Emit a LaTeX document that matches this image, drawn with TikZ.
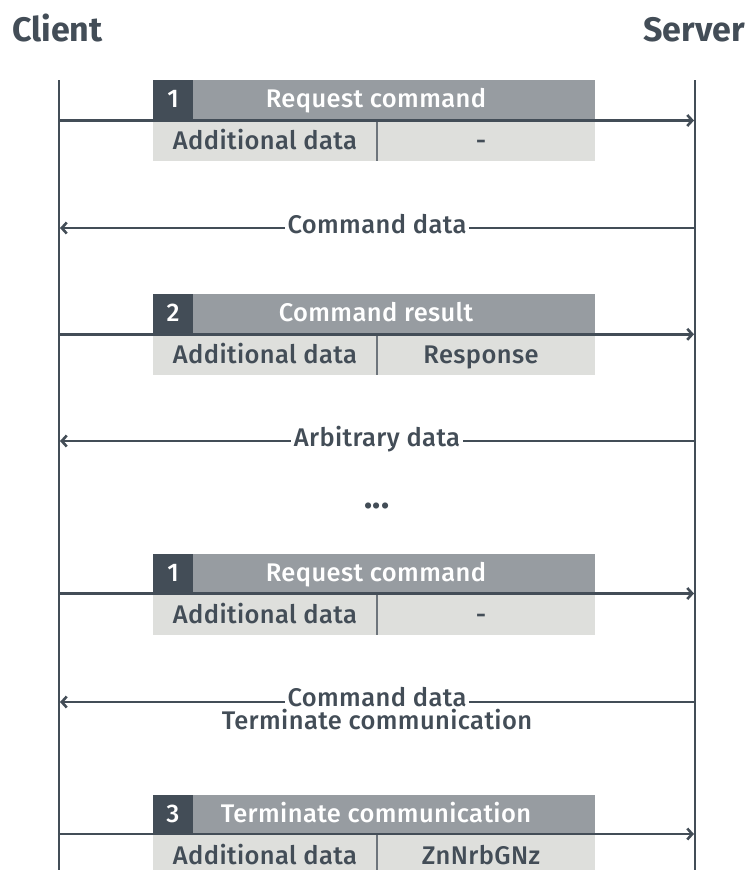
\documentclass[tikz,border=0pt]{standalone}
\usepackage{fontspec}
\IfFontExistsTF{Fira Sans Medium}{%
  \setmainfont{Fira Sans}[BoldFont={Fira Sans Bold}]%
  \newfontfamily\boxfont{Fira Sans Medium}[LetterSpace=1.5]%
}{%
  \IfFontExistsTF{FiraSans-Medium.otf}{%
    \setmainfont{FiraSans}[Extension=.otf,UprightFont=*-Regular,BoldFont=*-Bold]%
    \newfontfamily\boxfont{FiraSans}[Extension=.otf,UprightFont=*-Medium,LetterSpace=1.5]%
  }{%
    \setmainfont{Fira Sans}%
    \newfontfamily\boxfont{Fira Sans}[LetterSpace=2.2,FakeBold=1.3]%
  }%
}
\usetikzlibrary{arrows.meta}
\definecolor{ink}{HTML}{434D57}
\definecolor{hdrgray}{HTML}{979CA1}
\definecolor{rowgray}{HTML}{DEDFDC}
\definecolor{divgray}{HTML}{6D747B}
\tikzset{
  lifeline/.style={draw=ink, line width=2.6pt},
  msgarrow/.style={draw=ink, line width=2.6pt, -{Straight Barb[length=5pt,width=11pt]}},
  titletext/.style={text=ink, font=\fontsize{34}{40}\selectfont\bfseries, inner sep=0pt},
  hdrtext/.style={text=white, font=\boxfont\fontsize{25.5}{29}\selectfont, anchor=base, inner sep=0pt},
  celltext/.style={text=ink, font=\boxfont\fontsize{25.5}{29}\selectfont, anchor=base, inner sep=0pt},
  retlabel/.style={text=ink, font=\boxfont\fontsize{25.5}{29}\selectfont, anchor=base, fill=white, inner xsep=3pt, inner ysep=0.5pt, text depth=0pt},
  plainlabel/.style={text=ink, font=\boxfont\fontsize{25.5}{29}\selectfont, anchor=base, inner sep=0pt},
  dotstext/.style={text=ink, font=\fontsize{34}{40}\selectfont\bfseries, anchor=base, inner sep=0pt},
  hdrfill/.style={fill=hdrgray},
  numfill/.style={fill=ink},
  rowfill/.style={fill=rowgray},
  divider/.style={draw=divgray, line width=1.4pt}
}
\newcommand{\msgbox}[6]{%
  \begin{scope}[shift={(0,#1)}]
    \fill[hdrfill] (153,0) rectangle (595,40);
    \fill[numfill] (153,0) rectangle (193,40);
    \fill[rowfill] (153,40) rectangle (595,81);
    \draw[divider] (377,40) -- (377,81);
    \node[hdrtext] (#6n) at (173,27.8) {#2};
    \node[hdrtext] (#6h) at (376,27.8) {#3};
    \node[celltext] (#6a) at (265,69.5) {#4};
    \node[celltext] (#6b) at (481,69.5) {#5};
  \end{scope}}
\begin{document}
\begin{tikzpicture}[x=1pt,y=-1pt]
\useasboundingbox (0,0) rectangle (747,870);
\clip (0,0) rectangle (747,870);
\node[titletext, anchor=base west] (client) at (12,41) {Client};
\node[titletext, anchor=base east] (server) at (745,41) {Server};
\coordinate (ltop) at (59,80);
\coordinate (lbot) at (59,872);
\coordinate (rtop) at (695,80);
\coordinate (rbot) at (695,872);
\draw[lifeline] (ltop) -- (lbot);
\draw[lifeline] (rtop) -- (rbot);
% message 1
\msgbox{80}{1}{Request command}{Additional data}{-}{bA}
\coordinate (m1l) at (59,120.5);
\coordinate (m1r) at (694,120.5);
\draw[msgarrow] (m1l) -- (m1r);
% return 1
\coordinate (r1r) at (695,228);
\coordinate (r1l) at (60,228);
\draw[msgarrow] (r1r) -- (r1l);
\node[retlabel] (r1t) at (377,233.5) {Command data};
% message 2
\msgbox{294}{2}{Command result}{Additional data}{Response}{bB}
\coordinate (m2l) at (59,334.3);
\coordinate (m2r) at (694,334.3);
\draw[msgarrow] (m2l) -- (m2r);
% return 2
\coordinate (r2r) at (695,441);
\coordinate (r2l) at (60,441);
\draw[msgarrow] (r2r) -- (r2l);
\node[retlabel] (r2t) at (377,446.5) {Arbitrary data};
% dots
\node[dotstext] (dots) at (377,508) {...};
% message 3
\msgbox{554}{1}{Request command}{Additional data}{-}{bC}
\coordinate (m3l) at (59,593.5);
\coordinate (m3r) at (694,593.5);
\draw[msgarrow] (m3l) -- (m3r);
% return 3
\coordinate (r3r) at (695,702);
\coordinate (r3l) at (60,702);
\draw[msgarrow] (r3r) -- (r3l);
\node[retlabel] (r3t) at (377,706) {Command data};
\node[plainlabel] (r3u) at (377,729) {Terminate communication};
% message 4
\msgbox{795}{3}{Terminate communication}{Additional data}{ZnNrbGNz}{bD}
\coordinate (m4l) at (59,834);
\coordinate (m4r) at (694,834);
\draw[msgarrow] (m4l) -- (m4r);
\end{tikzpicture}
\end{document}
